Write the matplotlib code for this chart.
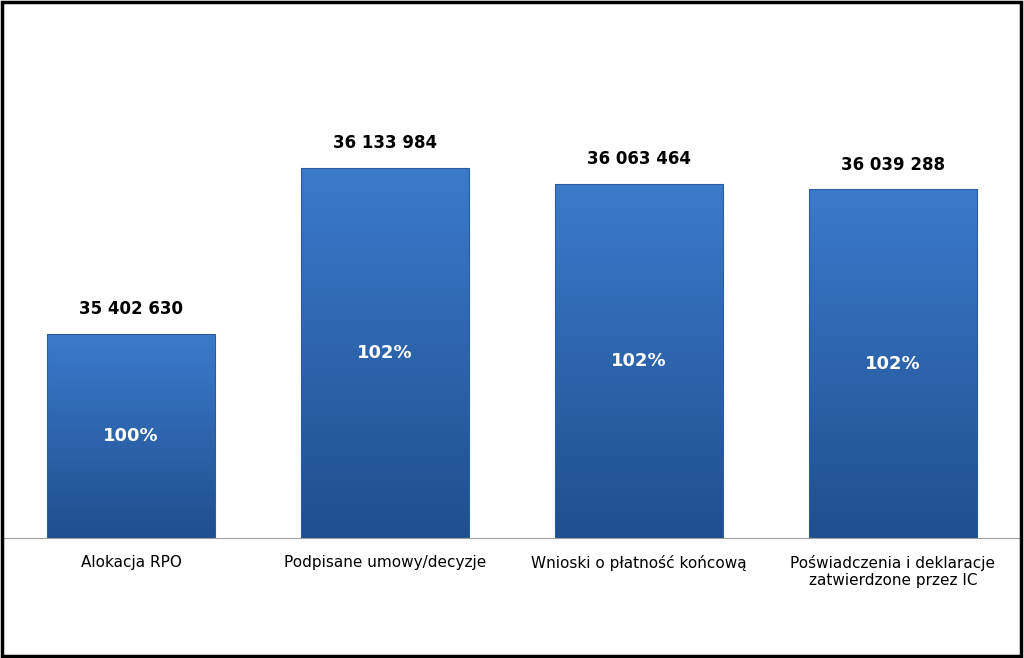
import numpy as np
import matplotlib.pyplot as plt
from matplotlib.colors import LinearSegmentedColormap
from matplotlib.patches import Rectangle

categories = ["Alokacja RPO", "Podpisane umowy/decyzje",
              "Wnioski o płatność końcową",
              "Poświadczenia i deklaracje\nzatwierdzone przez IC"]
values = [35402630, 36133984, 36063464, 36039288]
percent_labels = ["100%", "102%", "102%", "102%"]
value_labels = ["35 402 630", "36 133 984", "36 063 464", "36 039 288"]

W, H = 1024, 658
fig = plt.figure(figsize=(W / 100, H / 100), dpi=100)
fig.patch.set_facecolor("white")
fig.add_artist(Rectangle((0.002, 0.003), 0.995, 0.994, transform=fig.transFigure,
                         fill=False, edgecolor="black", linewidth=2.5))

# axes from x=4..1020 px, y baseline at 538 px, top at 20 px
ax = fig.add_axes([4 / W, (H - 538) / H, 1016 / W, 518 / H])
ymin = 34503900
ymax = ymin + 518 * 4405.7
ax.set_xlim(-0.5, 3.5)
ax.set_ylim(ymin, ymax)

cmap = LinearSegmentedColormap.from_list("bar", ["#1f4f8e", "#3b7acb"])
grad = np.linspace(0, 1, 256).reshape(-1, 1)
width = 0.66
for i, v in enumerate(values):
    x0 = i - width / 2
    ax.imshow(grad, cmap=cmap, origin="lower", aspect="auto",
              extent=(x0, x0 + width, ymin, v), zorder=2)
    ax.add_patch(Rectangle((x0, ymin), width, v - ymin, fill=False,
                           edgecolor="#2a5d9f", linewidth=0.8, zorder=3))
    ax.text(i, v + (ymax - ymin) * 0.03, value_labels[i], ha="center", va="bottom",
            fontsize=12, fontweight="bold", color="black", family="DejaVu Sans")
    ax.text(i, (v + ymin) / 2, percent_labels[i], ha="center", va="center",
            fontsize=13, fontweight="bold", color="white")

ax.set_xticks(range(len(categories)))
ax.set_xticklabels(categories, fontsize=11)
ax.tick_params(axis="x", length=0, pad=12)
ax.set_yticks([])
for s in ["top", "right", "left"]:
    ax.spines[s].set_visible(False)
ax.spines["bottom"].set_color("#a0a0a0")

fig.savefig("out.png", dpi=100)
